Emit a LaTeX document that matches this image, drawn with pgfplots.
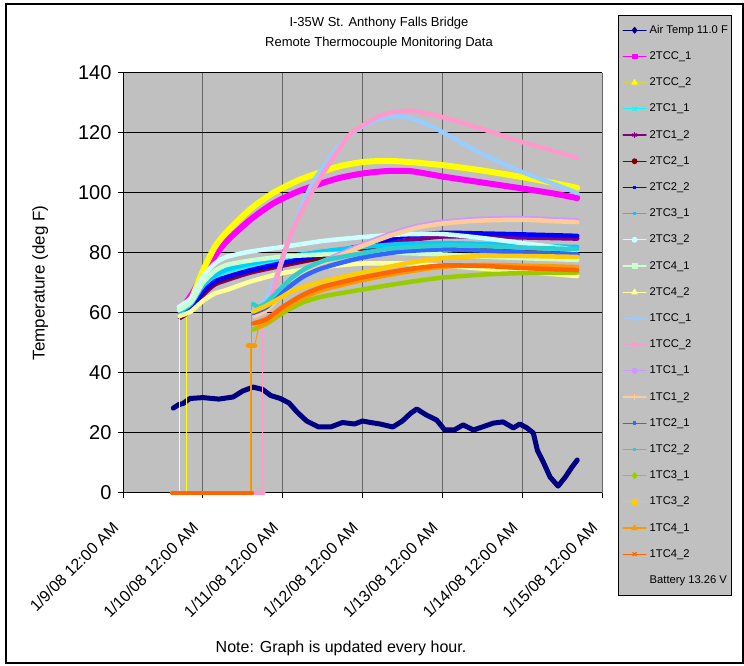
\documentclass[border=0pt]{standalone}
\usepackage{fontspec}
\setmainfont{Liberation Sans}
\usepackage{pgfplots}
\pgfplotsset{compat=1.18}
\definecolor{plotgray}{RGB}{192,192,192}
\definecolor{cAir}{RGB}{0,0,128}
\definecolor{cMag}{RGB}{255,0,255}
\definecolor{cYel}{RGB}{255,255,0}
\definecolor{cYelLine}{RGB}{215,215,60}
\definecolor{cCyan}{RGB}{0,255,255}
\definecolor{cPurp}{RGB}{128,0,128}
\definecolor{cMaroon}{RGB}{128,0,0}
\definecolor{cBlue}{RGB}{0,0,255}
\definecolor{cSky}{RGB}{0,204,255}
\definecolor{cLTurq}{RGB}{204,255,255}
\definecolor{cLGreen}{RGB}{204,255,204}
\definecolor{cLYel}{RGB}{255,255,153}
\definecolor{cPBlue}{RGB}{153,204,255}
\definecolor{cRose}{RGB}{255,153,204}
\definecolor{cLav}{RGB}{204,153,255}
\definecolor{cTan}{RGB}{255,204,153}
\definecolor{cRBlue}{RGB}{51,102,255}
\definecolor{cAqua}{RGB}{51,204,204}
\definecolor{cLime}{RGB}{153,204,0}
\definecolor{cGold}{RGB}{255,204,0}
\definecolor{cLOrange}{RGB}{255,153,0}
\definecolor{cOrange}{RGB}{255,102,0}
\begin{document}
\begin{tikzpicture}[x=1pt,y=1pt]
\path[use as bounding box] (0,0) rectangle (744,666);
\draw[line width=1.2pt] (6,3) rectangle (743,662);
\node[font=\fontsize{13}{20}\selectfont, align=center] at (379,633) {I-35W St. Anthony Falls Bridge\\Remote Thermocouple Monitoring Data};
\node[font=\fontsize{16}{19}\selectfont] at (341,18) {Note: Graph is updated every hour.};
\begin{axis}[
  at={(123pt,173pt)}, anchor=south west,
  scale only axis, width=479pt, height=420pt,
  xmin=0, xmax=6, ymin=0, ymax=140,
  clip=false,
  axis lines*=left,
  axis line style={black, line width=1pt},
  axis background/.style={fill=plotgray},
  grid=major,
  major x grid style={draw=black!60, line width=1pt},
  major y grid style={draw=black, line width=1pt},
  tick align=outside, major tick length=5pt,
  tick style={black, line width=1pt},
  ytick={0,20,...,140},
  xtick={0,1,2,3,4,5,6},
  xticklabels={1/9/08 12:00 AM,1/10/08 12:00 AM,1/11/08 12:00 AM,1/12/08 12:00 AM,1/13/08 12:00 AM,1/14/08 12:00 AM,1/15/08 12:00 AM},
  /pgf/number format/assume math mode=true,
  yticklabel style={font=\fontsize{20}{22}\selectfont, xshift=-3pt},
  xticklabel style={font=\fontsize{16}{18}\selectfont, xshift=-5pt, yshift=-25pt, rotate=45, anchor=east},
  ylabel={Temperature (deg F)},
  ylabel style={font=\fontsize{17}{19}\selectfont, at={(axis description cs:-0.173,0.5)}, anchor=center},
  legend style={at={(1.0334,1.138)}, anchor=north west, fill=plotgray, draw=black, line width=1pt,
    font=\fontsize{11.2}{13}\selectfont, inner xsep=4pt, inner ysep=8.7pt, row sep=14.2pt,
    nodes={inner sep=0pt, text height=9pt, text depth=3pt, anchor=west},
    /tikz/column 1/.style={column sep=3pt}},
  legend cell align=left,
  legend image code/.code={\draw[mark repeat=2,mark phase=2,line width=1.2pt,#1] plot coordinates {(0pt,0pt) (11.5pt,0pt) (23pt,0pt)};},
  every axis plot/.append style={line join=round, line cap=round},
]
% Air Temp
\addplot[draw=cAir, line width=5pt, forget plot] coordinates {(0.63,28.3) (0.70,29.5) (0.75,29.8) (0.84,31.5) (1.0,31.8) (1.2,31.3) (1.38,32) (1.5,34) (1.63,35.3) (1.75,34.5) (1.85,32.5) (1.97,31.5) (2.08,30) (2.18,27) (2.3,24) (2.45,22) (2.6,22) (2.75,23.5) (2.9,23) (3.0,24) (3.1,23.5) (3.22,23) (3.38,22) (3.5,24) (3.6,26.5) (3.68,28) (3.8,26) (3.93,24.3) (4.03,21) (4.15,21) (4.26,22.7) (4.39,21) (4.5,22) (4.64,23.3) (4.76,23.7) (4.89,21.7) (4.97,23) (5.06,21.7) (5.14,20) (5.19,14.3) (5.27,10) (5.35,5.3) (5.45,2.3) (5.54,5.3) (5.62,8.5) (5.69,11)};
% 2TCC_1
\addplot[draw=cMag, line width=6pt, smooth, tension=0.4, forget plot] coordinates {(0.72,60) (0.78,63) (0.88,67) (1.0,73) (1.15,79) (1.3,84) (1.59,91) (1.88,96.5) (2.22,100.8) (2.68,104.8) (3.0,106.5) (3.3,107.3) (3.6,107.3) (4.0,105.5) (4.5,103.5) (5.0,101.5) (5.4,99.8) (5.69,98.3)};
% 2TCC_2
\addplot[draw=cYel, line width=1pt, forget plot] coordinates {(0.80,0) (0.80,60)};
\addplot[draw=cYel, line width=6pt, smooth, tension=0.4, forget plot] coordinates {(0.80,60) (0.88,66) (1.0,74) (1.15,82) (1.3,87) (1.59,94.5) (1.88,100) (2.22,104.5) (2.68,108.7) (3.0,110.3) (3.3,110.7) (3.6,110.3) (4.0,109.3) (4.5,107.5) (5.0,105.3) (5.4,103.3) (5.69,101.7)};
% 2TC1_1
\addplot[draw=cCyan, line width=4.5pt, smooth, tension=0.4, forget plot] coordinates {(0.72,60) (0.85,62.5) (1.0,68.5) (1.15,72) (1.3,74) (1.6,76) (2.0,78) (2.5,80) (3.0,81.5) (3.5,82.5) (4.0,82.7) (4.5,82.3) (5.0,81.8) (5.69,81.2)};
% 2TC1_2
\addplot[draw=cPurp, line width=4.5pt, smooth, tension=0.4, forget plot] coordinates {(0.72,58.5) (0.85,61) (1.0,66) (1.15,69.5) (1.3,71) (1.6,73.5) (2.0,75.8) (2.5,78.5) (3.0,81.5) (3.5,84) (4.0,85.5) (4.5,85.5) (5.0,85.2) (5.69,84.8)};
% 2TC2_1
\addplot[draw=cMaroon, line width=4.5pt, smooth, tension=0.4, forget plot] coordinates {(0.72,58.5) (0.85,61) (1.0,66.5) (1.15,70) (1.3,71.5) (1.6,74) (2.0,76.3) (2.5,78.5) (3.0,80.5) (3.5,81.8) (4.0,81.8) (4.5,81) (5.0,80.3) (5.69,79.5)};
% 2TC2_2
\addplot[draw=cBlue, line width=4.5pt, smooth, tension=0.4, forget plot] coordinates {(0.72,59) (0.85,61.5) (1.0,67) (1.15,70.5) (1.3,72) (1.6,74.3) (2.0,76.7) (2.5,79.5) (3.0,82.5) (3.5,85.5) (4.0,86.7) (4.5,86.5) (5.0,86.2) (5.69,85.7)};
% 2TC3_1
\addplot[draw=cSky, line width=4.5pt, smooth, tension=0.4, forget plot] coordinates {(0.72,60.5) (0.85,63) (1.0,69) (1.15,72.5) (1.3,74.5) (1.6,76.5) (2.0,78.5) (2.5,80.5) (3.0,82) (3.5,83) (4.0,83.3) (4.5,83) (5.0,82.5) (5.69,82)};
% 2TC3_2
\addplot[draw=cLTurq, line width=4.5pt, smooth, tension=0.4, forget plot] coordinates {(0.70,62) (0.85,65) (1.0,72) (1.15,76.5) (1.3,78.7) (1.6,80.5) (2.0,82) (2.5,84) (3.0,85.3) (3.5,86.2) (4.0,86.3) (4.5,85) (5.0,83.3) (5.4,82) (5.69,81)};
% 2TC4_1
\addplot[draw=cLGreen, line width=4.5pt, smooth, tension=0.4, forget plot] coordinates {(0.70,61) (0.85,63.5) (1.0,70) (1.15,74) (1.3,76) (1.6,77.5) (2.0,78.8) (2.5,79.5) (3.0,80) (3.5,80) (4.0,79.5) (4.5,78.8) (5.0,78.3) (5.69,77.7)};
% 2TC4_2
\addplot[draw=cLYel, line width=1pt, forget plot] coordinates {(0.71,0) (0.71,59)};
\addplot[draw=cLYel, line width=4.5pt, smooth, tension=0.4, forget plot] coordinates {(0.71,59) (0.85,60.5) (1.0,64) (1.15,66.5) (1.3,67.7) (1.6,70.5) (2.0,73.3) (2.5,75.3) (3.0,76.5) (3.5,76.5) (4.0,75.8) (4.5,74.8) (5.0,73.8) (5.69,72.3)};
% 1TCC_1
\addplot[draw=cPBlue, line width=4.5pt, smooth, tension=0.4, forget plot] coordinates {(1.63,62) (1.72,62.5) (1.82,66) (1.95,74) (2.05,82) (2.2,93) (2.35,102) (2.5,108.5) (2.7,115.5) (2.9,120.5) (3.1,123.5) (3.35,125.5) (3.55,125.3) (3.8,123) (4.0,120.3) (4.5,113) (5.0,107) (5.4,103) (5.69,100)};
% 1TCC_2
\addplot[draw=cRose, line width=4.5pt, forget plot] coordinates {(1.62,0) (1.76,0)};
\addplot[draw=cRose, line width=1pt, forget plot] coordinates {(1.75,0) (1.75,60)};
\addplot[draw=cRose, line width=4.5pt, smooth, tension=0.4, forget plot] coordinates {(1.75,60) (1.85,65) (1.93,72) (2.0,78.7) (2.1,86) (2.22,93) (2.35,99.5) (2.47,105) (2.65,112.5) (2.84,119.5) (3.0,122.5) (3.2,125.5) (3.4,127) (3.64,127.3) (4.0,125.3) (4.5,121.3) (5.0,117) (5.4,114) (5.69,111.7)};
% 1TC1_1
\addplot[draw=cLav, line width=4.5pt, smooth, tension=0.4, forget plot] coordinates {(1.65,59.5) (1.8,61.5) (2.0,67) (2.2,72.6) (2.5,77.1) (2.75,80.1) (3.0,82.9) (3.35,86.4) (3.7,89.1) (4.0,90.4) (4.4,91.3) (4.75,91.6) (5.1,91.6) (5.4,91.2) (5.69,90.9)};
% 1TC1_2
\addplot[draw=cTan, line width=4.5pt, smooth, tension=0.4, forget plot] coordinates {(1.65,59) (1.8,61) (2.0,66.5) (2.2,72) (2.5,76.5) (2.75,79.5) (3.0,82.3) (3.35,85.8) (3.7,88.5) (4.0,89.8) (4.4,90.7) (4.75,91) (5.1,91) (5.4,90.6) (5.69,90.3)};
% 1TC2_1
\addplot[draw=cRBlue, line width=4.5pt, smooth, tension=0.4, forget plot] coordinates {(1.63,60) (1.8,62) (2.0,67) (2.25,72) (2.5,75) (3.0,78.5) (3.5,80.5) (4.0,81.2) (4.5,80.8) (5.0,80.2) (5.69,79.5)};
% 1TC2_2
\addplot[draw=cAqua, line width=1pt, forget plot] coordinates {(1.615,0) (1.615,63)};
\addplot[draw=cAqua, line width=4.5pt, smooth, tension=0.4, forget plot] coordinates {(1.63,63) (1.7,62) (1.8,63.5) (1.95,67.5) (2.13,72) (2.3,75) (2.55,77.7) (2.97,79.8) (3.35,81.5) (4.0,82.5) (4.5,82.3) (5.0,81.8) (5.69,81.3)};
% 1TC3_1
\addplot[draw=cLime, line width=4.5pt, smooth, tension=0.4, forget plot] coordinates {(1.63,54.5) (1.8,56.5) (2.0,60) (2.25,63.5) (2.5,65.5) (2.97,67.7) (3.5,70) (3.97,71.7) (4.5,72.8) (5.0,73.3) (5.69,73.5)};
% 1TC3_2
\addplot[draw=cGold, line width=4.5pt, smooth, tension=0.4, forget plot] coordinates {(1.63,60.5) (1.8,62.5) (2.0,65.5) (2.13,67.5) (2.5,70.5) (2.97,73.3) (3.5,76.3) (3.97,78.2) (4.5,79) (5.0,79) (5.69,78.7)};
% 1TC4_1
\addplot[draw=cLOrange, line width=1pt, forget plot] coordinates {(1.595,0) (1.595,49)};
\addplot[draw=cLOrange, line width=5pt, forget plot] coordinates {(1.57,49) (1.65,49)};
\addplot[draw=cLOrange, line width=1pt, forget plot] coordinates {(1.65,49) (1.70,55.5)};
\addplot[draw=cLOrange, line width=4.5pt, smooth, tension=0.4, forget plot] coordinates {(1.70,55.5) (1.8,57) (2.0,61) (2.25,65) (2.5,67.7) (2.97,70.8) (3.5,73.5) (3.97,75.3) (4.5,76) (5.0,75.8) (5.69,75.3)};
% 1TC4_2
\addplot[draw=cOrange, line width=4.5pt, forget plot] coordinates {(0.615,0) (1.615,0)};
\addplot[draw=cOrange, line width=4.5pt, smooth, tension=0.4, forget plot] coordinates {(1.63,56.5) (1.8,58) (2.0,62) (2.25,66) (2.5,68.7) (2.97,71.7) (3.5,74.3) (3.97,75.8) (4.5,75.7) (5.0,75) (5.69,74.3)};
% legend
\addlegendimage{color=cAir, mark=diamond*, mark size=2.8pt}
\addlegendentry{Air Temp 11.0 F}
\addlegendimage{color=cMag, mark=square*, mark size=2.3pt}
\addlegendentry{2TCC\_1}
\addlegendimage{color=cYelLine, mark=triangle*, mark options={fill=cYel, draw=cYel}, mark size=3pt}
\addlegendentry{2TCC\_2}
\addlegendimage{color=cCyan, mark=x, mark size=2.5pt}
\addlegendentry{2TC1\_1}
\addlegendimage{color=cPurp, mark=asterisk, mark size=2.3pt}
\addlegendentry{2TC1\_2}
\addlegendimage{color=cMaroon, mark=*, mark size=2.3pt}
\addlegendentry{2TC2\_1}
\addlegendimage{color=cBlue, mark=square*, mark size=1.2pt}
\addlegendentry{2TC2\_2}
\addlegendimage{color=cSky, mark=square*, mark size=1.2pt}
\addlegendentry{2TC3\_1}
\addlegendimage{color=cLTurq, mark=*, mark size=2.3pt}
\addlegendentry{2TC3\_2}
\addlegendimage{color=cLGreen, mark=square*, mark size=2.3pt}
\addlegendentry{2TC4\_1}
\addlegendimage{color=cLYel, mark=triangle*, mark size=3pt}
\addlegendentry{2TC4\_2}
\addlegendimage{color=cPBlue, mark=x, mark size=2.5pt}
\addlegendentry{1TCC\_1}
\addlegendimage{color=cRose, mark=asterisk, mark size=2.3pt}
\addlegendentry{1TCC\_2}
\addlegendimage{color=cLav, mark=*, mark size=2.5pt}
\addlegendentry{1TC1\_1}
\addlegendimage{color=cTan, mark=+, mark size=2.5pt}
\addlegendentry{1TC1\_2}
\addlegendimage{color=cRBlue, mark=square*, mark size=1.2pt}
\addlegendentry{1TC2\_1}
\addlegendimage{color=cAqua, mark=square*, mark size=1.2pt}
\addlegendentry{1TC2\_2}
\addlegendimage{color=cLime, mark=diamond*, mark size=2.8pt}
\addlegendentry{1TC3\_1}
\addlegendimage{color=cGold, mark=square*, mark size=2.5pt}
\addlegendentry{1TC3\_2}
\addlegendimage{color=cLOrange, mark=triangle*, mark size=3pt}
\addlegendentry{1TC4\_1}
\addlegendimage{color=cOrange, mark=x, mark size=2.5pt}
\addlegendentry{1TC4\_2}
\addlegendimage{empty legend}
\addlegendentry{Battery 13.26 V}
\end{axis}
\end{tikzpicture}
\end{document}
